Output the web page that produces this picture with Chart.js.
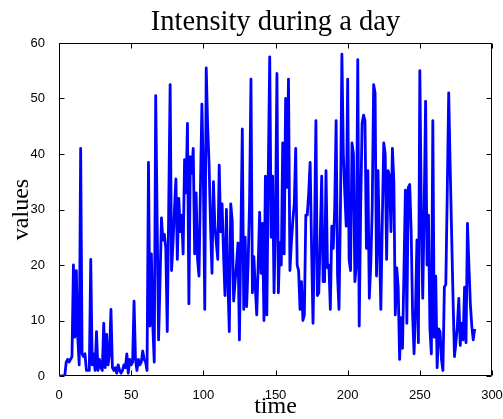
<!DOCTYPE html>
<html>
<head>
<meta charset="utf-8">
<title>Intensity during a day</title>
<script src="https://cdn.jsdelivr.net/npm/chart.js@4.4.1/dist/chart.umd.min.js"></script>
<style>
    html, body { margin: 0; padding: 0; background: #fff; }
    #wrap { width: 503px; height: 419px; }
</style>
</head>
<body>
<div id="wrap"><canvas id="myChart" width="503" height="419"></canvas></div>
<script>
// ------------------------------------------------------------
// data (one sample every 5 minutes, 288 a day)
const values = [
    0, 0, 0, 0, 2.5, 3, 2.5, 3, 3.5, 20,
    7, 19, 7, 2, 41, 4, 3.5, 4, 1, 1,
    1, 21, 2, 4, 1, 8, 1, 3, 1.5, 1,
    9.5, 1.5, 7.5, 2, 4, 12, 1.5, 1, 1.5, 0.5,
    2, 1, 0.5, 1, 2, 1.5, 4, 0.5, 3, 2,
    2.5, 13.5, 3, 1, 3, 2, 2.5, 4.5, 3, 2.5,
    1, 38.5, 9, 22, 9, 2.5, 50.5, 28, 6.5, 17,
    28.5, 24.5, 25.5, 23, 8, 30, 52.5, 19, 24, 30,
    35.5, 21, 32, 26, 29, 22, 39, 33, 45.5, 13,
    39.5, 36.5, 41, 22, 33, 21, 18, 34, 49, 36,
    12, 55.5, 45, 38, 27, 18.5, 35, 27, 24, 21,
    38, 26, 31, 22, 14.5, 30, 17, 8, 31, 28,
    13.5, 17, 20, 24, 6.5, 25, 44.5, 12, 25, 12.5,
    20, 31, 53.5, 15, 21.5, 16, 11, 20, 29.5, 18.5,
    27.5, 10, 36, 11, 36.5, 57.5, 25, 36, 15, 28,
    54.5, 15, 24, 20, 42, 22, 50, 34, 53.5, 19,
    24, 28, 31, 41, 20, 19, 12, 17, 10, 11,
    29, 29, 33, 38.5, 23, 9.5, 25, 46, 14.5, 15,
    25, 36, 17, 17, 37, 19.5, 20, 12, 27, 23,
    30, 46, 18, 12, 30, 58, 40, 33, 27, 53.5,
    21, 19, 42, 40, 17, 20, 57, 9, 30, 45.5,
    47, 46, 23, 37, 14, 20, 30, 52.5, 51, 18,
    37, 24, 12, 28, 42, 40, 21, 37, 36, 26,
    41, 35, 11, 19.5, 16, 3, 10.5, 5, 19, 33.5,
    9.5, 34, 34.5, 26, 11, 4, 12, 24.5, 6, 55,
    30, 14, 30, 49.5, 20, 29, 8.5, 4, 46, 7,
    18, 1.5, 8.5, 8, 3, 1, 16, 16.5, 33, 51,
    38, 26, 14, 3.5, 6, 9, 14, 5.5, 9.5, 6.5,
    16, 6, 27.5, 20, 13, 9, 6.5, 8.5
];
const xTicks = [0, 50, 100, 150, 200, 250, 300];
const yTicks = [0, 10, 20, 30, 40, 50, 60];

// sample number on the time axis
const times = values.map((v, i) => i + 1);
const points = values.map((v, i) => ({ x: times[i], y: v }));

const serif = 'Liberation Serif, Times New Roman, serif';
const sans = 'Liberation Sans, Arial, sans-serif';

// ------------------------------------------------------------
// matlab style box with inward ticks on all four sides
const boxTicks = {
    id: 'boxTicks',
    beforeDatasetsDraw(chart) {
        const ctx = chart.ctx;
        const a = chart.chartArea;
        const sx = chart.scales.x;
        const sy = chart.scales.y;
        const L = Math.round(a.left) + 0.5, R = Math.round(a.right) - 0.5;
        const T = Math.round(a.top) + 0.5, B = Math.round(a.bottom) - 0.5;
        ctx.save();
        ctx.strokeStyle = '#000';
        ctx.lineWidth = 1;
        ctx.beginPath();
        xTicks.forEach(function (v) {
            let px = Math.round(sx.getPixelForValue(v)) + 0.5;
            ctx.moveTo(px, B); ctx.lineTo(px, B - 5);
            ctx.moveTo(px, T); ctx.lineTo(px, T + 5);
        });
        yTicks.forEach(function (v) {
            let py = Math.round(sy.getPixelForValue(v)) + 0.5;
            ctx.moveTo(L, py); ctx.lineTo(L + 5, py);
            ctx.moveTo(R, py); ctx.lineTo(R - 5, py);
        });
        ctx.rect(L, T, R - L, B - T);
        ctx.stroke();
        ctx.restore();
    }
};

const config = {
    type: 'line',
    data: {
        datasets: [{
            data: points,
            borderColor: '#0000ff',
            borderWidth: 2.8,
            borderJoinStyle: 'round',
            pointRadius: 0,
            tension: 0,
            fill: false
        }]
    },
    options: {
        responsive: false,
        animation: false,
        events: [],
        layout: { padding: { right: 11 } },
        plugins: {
            legend: { display: false },
            tooltip: { enabled: false },
            title: {
                display: true,
                text: 'Intensity during a day',
                fullSize: false,
                color: '#000',
                font: { family: serif, size: 28.5, weight: 'normal', lineHeight: 1.2 },
                padding: { top: 5.2, bottom: 3.6 }
            }
        },
        scales: {
            x: {
                type: 'linear',
                min: 0,
                max: 300,
                afterBuildTicks: function (s) { s.ticks = xTicks.map(v => ({ value: v })); },
                afterFit: function (s) { s.height = 43; s.paddingLeft = 0; s.paddingRight = 0; },
                grid: { display: false },
                border: { display: false },
                ticks: {
                    color: '#000',
                    font: { family: sans, size: 13 },
                    padding: 4,
                    maxRotation: 0,
                    autoSkip: false
                },
                title: {
                    display: true,
                    text: 'time',
                    color: '#000',
                    font: { family: serif, size: 24, weight: 'normal', lineHeight: 1.0 },
                    padding: { top: 0, bottom: 0 }
                }
            },
            y: {
                type: 'linear',
                min: 0,
                max: 60,
                afterBuildTicks: function (s) { s.ticks = yTicks.map(v => ({ value: v })); },
                afterFit: function (s) { s.width = 59; s.paddingTop = 0; s.paddingBottom = 0; },
                grid: { display: false },
                border: { display: false },
                ticks: {
                    color: '#000',
                    font: { family: sans, size: 13 },
                    padding: 6,
                    autoSkip: false
                },
                title: {
                    display: true,
                    text: 'values',
                    color: '#000',
                    font: { family: serif, size: 24, weight: 'normal', lineHeight: 1.1 },
                    padding: { top: 9, bottom: 0 }
                }
            }
        }
    },
    plugins: [boxTicks]
};

const myChart = new Chart(document.getElementById('myChart'), config);
</script>
</body>
</html>
